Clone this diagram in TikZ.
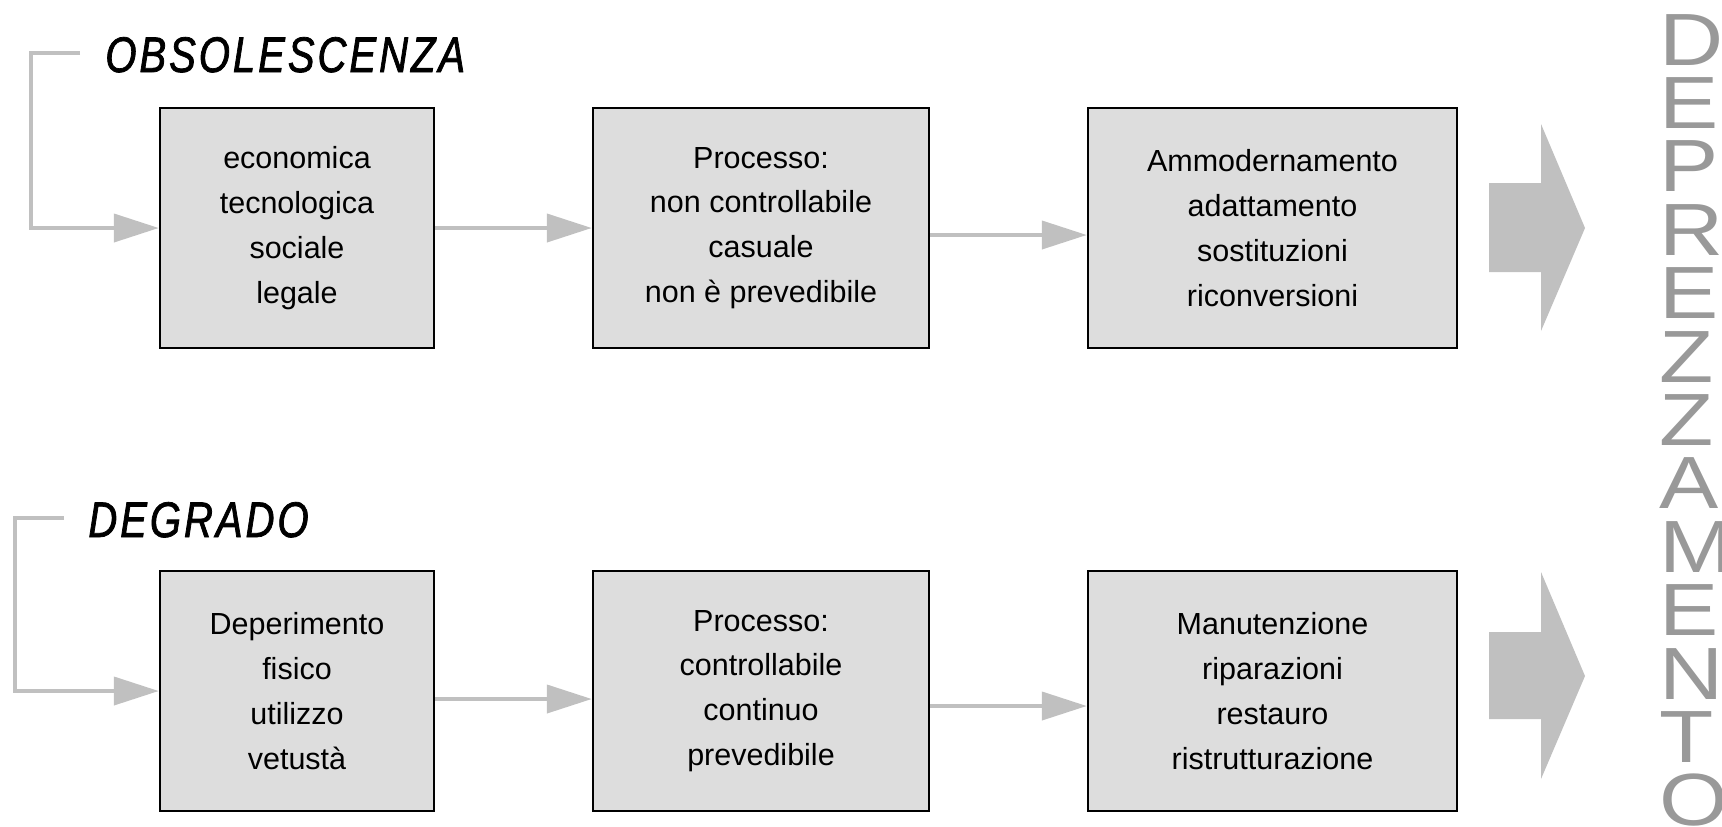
\documentclass[tikz,border=0pt]{standalone}
\usepackage{fontspec}
\setmainfont{Liberation Sans}
\newfontfamily\titlefont[FakeStretch=0.8,LetterSpace=6,FakeBold=1.5]{Liberation Sans}
\newfontfamily\letterfont[FakeStretch=1.2]{Liberation Sans}
\usetikzlibrary{arrows.meta}
\definecolor{boxGray}{HTML}{DDDDDD}
\definecolor{linkGray}{HTML}{C0C0C0}
\definecolor{letterGray}{HTML}{999999}

\begin{document}
\begin{tikzpicture}[
  x=0.5pt, y=-0.5pt,
  >={Triangle[length=22.5pt,width=14pt]},
  box/.style={draw=black, line width=1.2pt, fill=boxGray, inner sep=0pt,
    minimum height=120pt, align=center,
    font=\fontsize{15.25pt}{22.4pt}\selectfont},
  link/.style={->, draw=linkGray, line width=2pt},
  heading/.style={anchor=base west, inner sep=0pt,
    font=\titlefont\itshape\fontsize{25pt}{30pt}\selectfont},
  letter/.style={anchor=base west, inner sep=0pt, text=letterGray,
    font=\letterfont\fontsize{37pt}{40pt}\selectfont}
]
  \useasboundingbox (0,0) rectangle (1722,826);

  % Headings
  \node[heading] (obs) at (105,72) {OBSOLESCENZA};
  \node[heading] (deg) at (88,537) {DEGRADO};

  % Upper row
  \node[box, minimum width=137pt] (econ) at (297,228)
    {economica\\tecnologica\\sociale\\legale};
  \node[box, minimum width=168pt] (casual) at (761,228)
    {Processo:\\non controllabile\\casuale\\non è prevedibile};
  \node[box, minimum width=184.5pt] (ammod) at (1272.5,228)
    {Ammodernamento\\adattamento\\sostituzioni\\riconversioni};

  % Lower row
  \node[box, minimum width=137pt] (deper) at (297,691)
    {Deperimento\\fisico\\utilizzo\\vetustà};
  \node[box, minimum width=168pt] (contin) at (761,691)
    {Processo:\\controllabile\\continuo\\prevedibile};
  \node[box, minimum width=184.5pt] (manut) at (1272.5,691)
    {Manutenzione\\riparazioni\\restauro\\ristrutturazione};

  % Brackets from the headings
  \coordinate (obsStart) at (80,53);
  \coordinate (degStart) at (64,518);
  \draw[link] (obsStart) -- ++(-49,0) |- (econ.west);
  \draw[link] (degStart) -- ++(-49,0) |- (deper.west);

  % Row connectors
  \draw[link] (econ.east) -- (casual.west);
  \draw[link] ([yshift=-3.5pt]casual.east) -- ([yshift=-3.5pt]ammod.west);
  \draw[link] ([yshift=-4pt]deper.east) -- ([yshift=-4pt]contin.west);
  \draw[link] ([yshift=-7.5pt]contin.east) -- ([yshift=-7.5pt]manut.west);

  % Block arrows
  \fill[linkGray] (1489,183) -- (1541,183) -- (1541,124) -- (1585,228)
    -- (1541,331) -- (1541,272) -- (1489,272) -- cycle;
  \fill[linkGray] (1489,632) -- (1541,632) -- (1541,572) -- (1585,676)
    -- (1541,779) -- (1541,719) -- (1489,719) -- cycle;

  % Vertical word
  \foreach \ch [count=\i from 0] in {D,E,P,R,E,Z,Z,A,M,E,N,T,O}
    \node[letter] (dep\i) at (1659,65+63.4*\i) {\ch};
\end{tikzpicture}
\end{document}
